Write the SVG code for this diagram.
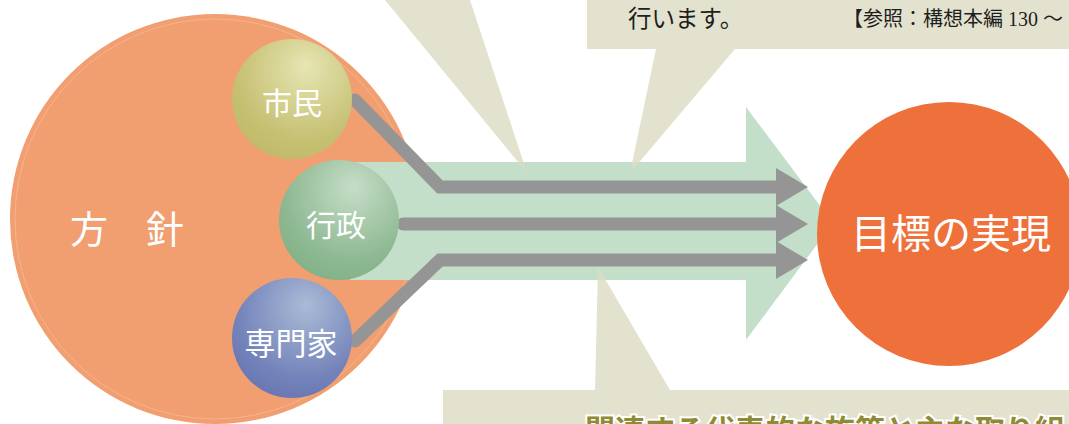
<svg xmlns="http://www.w3.org/2000/svg" width="1069" height="424" viewBox="0 0 1069 424">
  <defs>
    <radialGradient id="gY" cx="0.6" cy="0.3" r="0.75" fx="0.62" fy="0.22">
      <stop offset="0" stop-color="#E7E5B3"/>
      <stop offset="0.75" stop-color="#C6C073"/>
      <stop offset="1" stop-color="#C0BA69"/>
    </radialGradient>
    <radialGradient id="gG" cx="0.6" cy="0.3" r="0.75" fx="0.62" fy="0.22">
      <stop offset="0" stop-color="#C6DEC8"/>
      <stop offset="0.75" stop-color="#8DB891"/>
      <stop offset="1" stop-color="#83B287"/>
    </radialGradient>
    <radialGradient id="gB" cx="0.6" cy="0.3" r="0.75" fx="0.62" fy="0.22">
      <stop offset="0" stop-color="#AABBD6"/>
      <stop offset="0.75" stop-color="#7383BA"/>
      <stop offset="1" stop-color="#6876B2"/>
    </radialGradient>
    <marker id="ah" viewBox="0 0 32 38" refX="0" refY="19" markerWidth="32" markerHeight="38" markerUnits="userSpaceOnUse" orient="auto">
      <path d="M0,0 L32,19 L0,38 Z" fill="#959595"/>
    </marker>
  </defs>
  <style>
    .call { fill: #DCDBC2; fill-opacity: 0.8; }
    .wt { fill: #FFFFFF; font-family: "Noto Sans CJK JP", "Noto Sans", sans-serif; text-anchor: middle; }
    .conn { fill: none; stroke: #959595; stroke-width: 13; stroke-linecap: round; stroke-linejoin: miter; }
    .dark { fill: #1E1E1E; font-family: "Noto Sans CJK JP", sans-serif; }
  </style>
  <rect width="1069" height="424" fill="#FFFFFF"/>

  <g id="policy">
    <circle cx="215" cy="219" r="205" fill="#F19E70"/>
    <circle cx="215" cy="219" r="200" fill="none" stroke="#F5C2A5" stroke-width="0.6"/>
    <text class="wt" x="127" y="243" font-size="38">方　針</text>
  </g>

  <g id="flow">
    <path d="M350,162 H746 V107 L833,223 L746,340 V280 H350 Z" fill="#C3DFC9"/>
  </g>

  <g id="callouts">
    <polygon class="call" points="385,0 470,0 527,173"/>
    <path class="call" d="M587,-5 H1075 V49 H735 L630,173 L656,49 H587 Z"/>
    <path class="call" d="M443,390 H595 L598,267 L670,390 H1075 V430 H443 Z"/>
    <text class="dark" x="628" y="27" font-size="23.5">行います。</text>
    <text x="843" y="26" font-size="20" fill="#1E1E1E" font-family="'Liberation Serif', 'Noto Sans CJK JP', serif">【参照：構想本編 130 ～</text>
    <text x="585" y="441" font-size="30" font-weight="bold" fill="#8F8B34" stroke="#FFFFFF" stroke-width="4" paint-order="stroke" font-family="'Noto Sans CJK JP', sans-serif">関連する代表的な施策と主な取り組み</text>
  </g>

  <g id="connectors">
    <path class="conn" d="M355,100 L440,187 H776" marker-end="url(#ah)"/>
    <path class="conn" d="M403,224 H776" marker-end="url(#ah)"/>
    <path class="conn" d="M355,341 L440,260 H776" marker-end="url(#ah)"/>
  </g>

  <g id="citizen">
    <circle cx="292" cy="99" r="60" fill="url(#gY)"/>
    <text class="wt" x="292" y="114" font-size="30">市民</text>
  </g>
  <g id="admin">
    <circle cx="339" cy="220" r="60" fill="url(#gG)"/>
    <text class="wt" x="336" y="236" font-size="30">行政</text>
  </g>
  <g id="expert">
    <circle cx="292" cy="338" r="60" fill="url(#gB)"/>
    <text class="wt" x="291" y="355" font-size="31">専門家</text>
  </g>

  <g id="goal">
    <circle cx="949" cy="234" r="132" fill="#EE713B"/>
    <text class="wt" x="951" y="248" font-size="40">目標の実現</text>
  </g>
</svg>
